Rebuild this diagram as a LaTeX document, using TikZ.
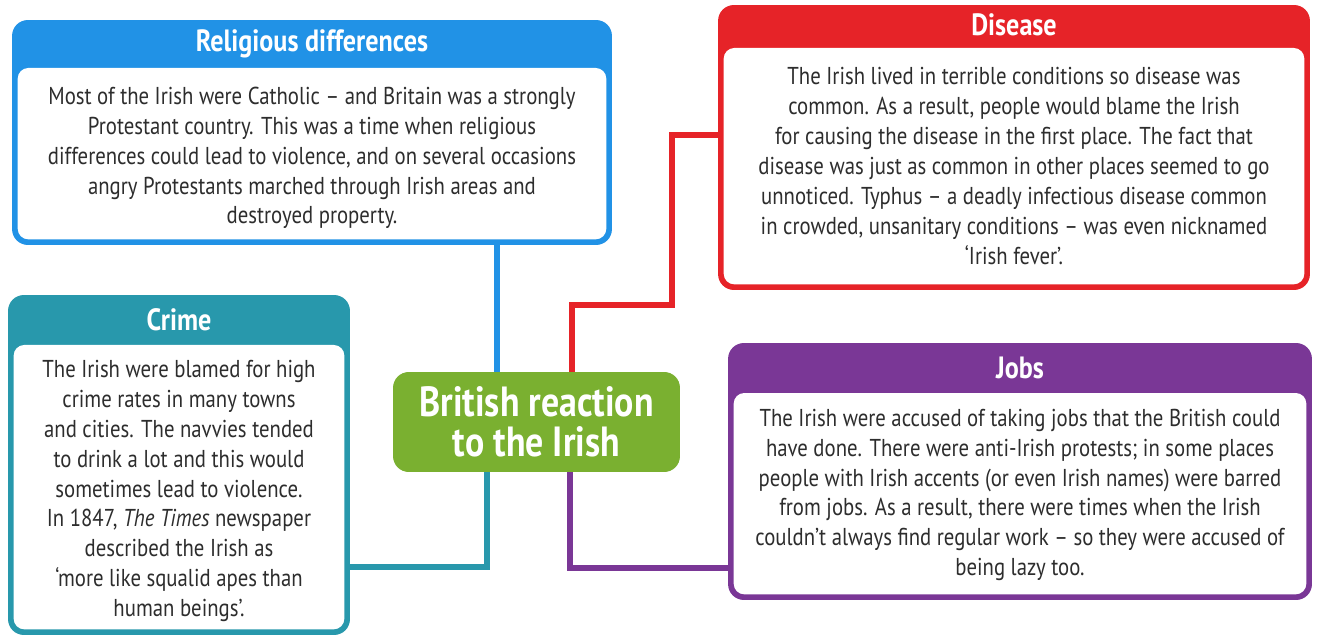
\documentclass[tikz,border=0pt]{standalone}
\usepackage{fontspec}
\setmainfont{PT Sans}[FakeStretch=0.85]
\usetikzlibrary{positioning}
\definecolor{relblue}{RGB}{33,146,230}
\definecolor{disred}{RGB}{230,35,40}
\definecolor{crimeteal}{RGB}{40,152,172}
\definecolor{jobpurple}{RGB}{122,55,150}
\definecolor{hubgreen}{RGB}{122,176,48}
\definecolor{bodytext}{RGB}{45,45,45}

\begin{document}
\begin{tikzpicture}[x=0.02cm, y=-0.02cm,
    frame/.style={fill=#1, rounded corners=9pt, inner sep=0pt},
    panel/.style={fill=white, rounded corners=6pt},
    head/.style={text=white, font=\bfseries\fontsize{17.5}{19}\selectfont},
    body/.style={align=center, text=bodytext, inner sep=0pt, font=\fontsize{13.9}{17}\selectfont},
    link/.style={draw=#1, line width=3pt},
    hubbox/.style={fill=hubgreen, rounded corners=9pt, align=center, text=white,
      font=\bfseries\fontsize{24}{23}\selectfont}]
  \useasboundingbox (0,0) rectangle (1318,638);

  \node[frame=relblue, minimum width=12cm, minimum height=4.5cm] (rel) at (312,132.5) {};
  \fill[panel] ([shift={(6,0)}]rel.west |- 0,68) rectangle ([shift={(-6,-6)}]rel.south east);
  \node[head] (relhead) at (312,44) {Religious differences};
  \node[body] (reltext) at (312,158) {Most of the Irish were Catholic -- and Britain was a strongly\\
    Protestant country. This was a time when religious\\
    differences could lead to violence, and on several occasions\\
    angry Protestants marched through Irish areas and\\
    destroyed property.};

  \node[frame=disred, minimum width=11.84cm, minimum height=5.7cm] (dis) at (1014,147.5) {};
  \fill[panel] ([shift={(6,0)}]dis.west |- 0,48) rectangle ([shift={(-6,-6)}]dis.south east);
  \node[head] (dishead) at (1014,25) {Disease};
  \node[body] (distext) at (1014,166) {The Irish lived in terrible conditions so disease was\\
    common. As a result, people would blame the Irish\\
    for causing the disease in the first place. The fact that\\
    disease was just as common in other places seemed to go\\
    unnoticed. Typhus -- a deadly infectious disease common\\
    in crowded, unsanitary conditions -- was even nicknamed\\
    `Irish fever'.};

  \node[frame=crimeteal, minimum width=6.84cm, minimum height=6.8cm] (crime) at (179,465) {};
  \fill[panel] ([shift={(6,0)}]crime.west |- 0,345) rectangle ([shift={(-6,-6)}]crime.south east);
  \node[head] (crimehead) at (179,320) {Crime};
  \node[body] (crimetext) at (179,491) {The Irish were blamed for high\\
    crime rates in many towns\\
    and cities. The navvies tended\\
    to drink a lot and this would\\
    sometimes lead to violence.\\
    In 1847, \textit{The Times} newspaper\\
    described the Irish as\\
    `more like squalid apes than\\
    human beings'.};

  \node[frame=jobpurple, minimum width=11.68cm, minimum height=5.14cm] (jobs) at (1020,471.5) {};
  \fill[panel] ([shift={(6,0)}]jobs.west |- 0,393) rectangle ([shift={(-6,-6)}]jobs.south east);
  \node[head] (jobshead) at (1020,368) {Jobs};
  \node[body] (jobstext) at (1020,495) {The Irish were accused of taking jobs that the British could\\
    have done. There were anti-Irish protests; in some places\\
    people with Irish accents (or even Irish names) were barred\\
    from jobs. As a result, there were times when the Irish\\
    couldn't always find regular work -- so they were accused of\\
    being lazy too.};

  \node[hubbox, minimum width=5.74cm, minimum height=2cm] (hub) at (536.5,422) {British reaction\\to the Irish};

  \draw[link=relblue] (rel.south -| 497,0) -- (hub.north -| 497,0);
  \draw[link=disred] (dis.west |- 0,135) -| (672,305) -| (hub.north -| 572,0);
  \draw[link=crimeteal] (hub.south -| 487,0) |- (crime.east |- 0,567);
  \draw[link=jobpurple] (hub.south -| 570,0) |- (jobs.west |- 0,568);
\end{tikzpicture}
\end{document}
